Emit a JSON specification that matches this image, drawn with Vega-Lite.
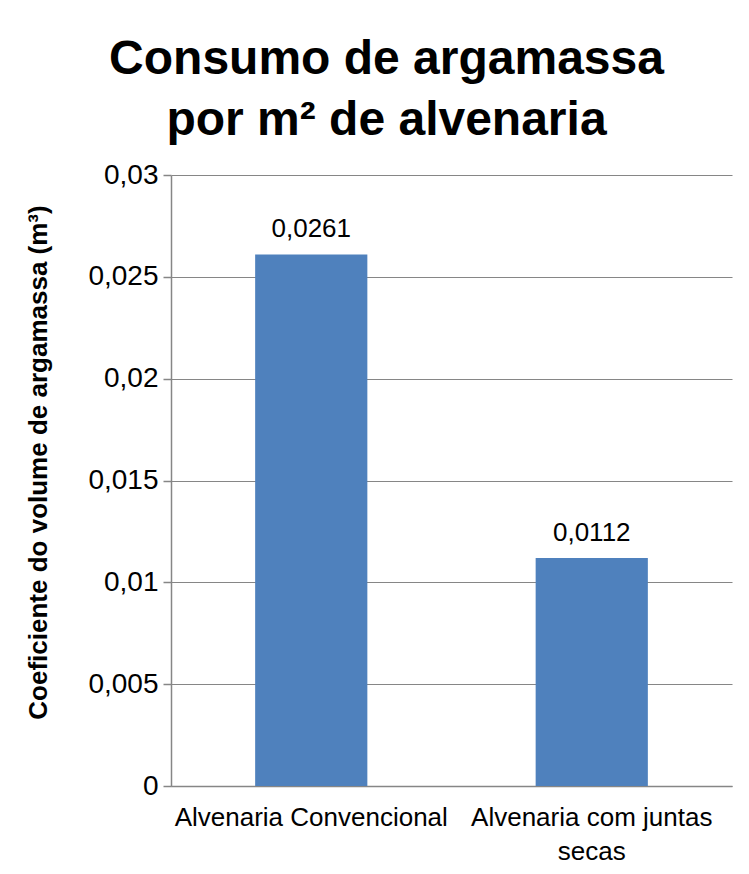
{
  "$schema": "https://vega.github.io/schema/vega-lite/v6.json",
  "autosize": "none",
  "padding": {"left": 171, "top": 175, "right": 17, "bottom": 88},
  "width": 561,
  "height": 611,
  "background": "white",
  "title": {
    "text": ["Consumo de argamassa", "por m² de alvenaria"],
    "font": "Liberation Sans",
    "fontSize": 48,
    "fontWeight": "bold",
    "color": "black",
    "lineHeight": 61,
    "anchor": "middle",
    "frame": "group",
    "dx": -65,
    "offset": 16
  },
  "data": {
    "values": [
      {"tipo": "Alvenaria Convencional", "coef": 0.0261},
      {"tipo": "Alvenaria com juntas secas", "coef": 0.0112}
    ]
  },
  "encoding": {
    "x": {
      "field": "tipo",
      "type": "nominal",
      "sort": null,
      "scale": {"paddingInner": 0.6, "paddingOuter": 0.3},
      "axis": {
        "title": null,
        "labelAngle": 0,
        "ticks": false,
        "tickSize": 0,
        "labelPadding": 18,
        "labelFont": "Liberation Sans",
        "labelFontSize": 26,
        "labelColor": "black",
        "labelLineHeight": 34,
        "labelLimit": 400,
        "domainColor": "#868686",
        "domainWidth": 1.5,
        "labelExpr": "datum.value == 'Alvenaria com juntas secas' ? ['Alvenaria com juntas', 'secas'] : datum.value"
      }
    },
    "y": {
      "field": "coef",
      "type": "quantitative",
      "scale": {"domain": [0, 0.03]},
      "axis": {
        "values": [0, 0.005, 0.01, 0.015, 0.02, 0.025, 0.03],
        "format": "~g",
        "title": "Coeficiente do volume de argamassa (m³)",
        "titleFont": "Liberation Sans",
        "titleFontSize": 26,
        "titleFontWeight": "bold",
        "titleColor": "black",
        "titlePadding": 36,
        "titleY": 287,
        "labelFont": "Liberation Sans",
        "labelFontSize": 28,
        "labelColor": "black",
        "labelPadding": 5,
        "tickSize": 8,
        "tickColor": "#868686",
        "tickWidth": 1.5,
        "domainColor": "#868686",
        "domainWidth": 1.5,
        "grid": true,
        "gridColor": "#868686",
        "gridWidth": 1.2
      }
    }
  },
  "layer": [
    {"mark": {"type": "bar", "color": "#4F81BD"}},
    {
      "mark": {
        "type": "text",
        "baseline": "alphabetic",
        "dy": -17,
        "font": "Liberation Sans",
        "fontSize": 26,
        "color": "black"
      },
      "encoding": {
        "text": {"field": "coef", "type": "quantitative", "format": "~g"}
      }
    }
  ],
  "config": {
    "locale": {
      "number": {"decimal": ",", "thousands": ".", "grouping": [3], "currency": ["R$", ""]}
    },
    "view": {"stroke": null}
  }
}
